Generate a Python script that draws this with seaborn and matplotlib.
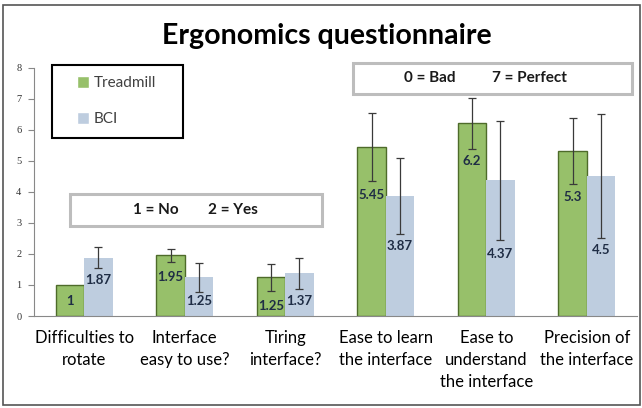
import matplotlib
matplotlib.use("Agg")
import matplotlib.pyplot as plt
import seaborn as sns
import pandas as pd
import numpy as np
from matplotlib.patches import Rectangle

categories = ["Difficulties to\nrotate", "Interface\neasy to use?", "Tiring\ninterface?",
              "Ease to learn\nthe interface", "Ease to\nunderstand\nthe interface",
              "Precision of\nthe interface"]
treadmill = [1, 1.95, 1.25, 5.45, 6.2, 5.3]
bci = [1.87, 1.25, 1.37, 3.87, 4.37, 4.5]
treadmill_err = [0, 0.21, 0.44, 1.1, 0.83, 1.06]
bci_err = [0.34, 0.47, 0.51, 1.22, 1.92, 2.0]
treadmill_txt = ["1", "1.95", "1.25", "5.45", "6.2", "5.3"]
bci_txt = ["1.87", "1.25", "1.37", "3.87", "4.37", "4.5"]
# heights where the value labels sit
treadmill_lab_y = [0.49, 1.26, 0.32, 3.88, 4.98, 3.83]
bci_lab_y = [1.15, 0.49, 0.49, 2.25, 2.0, 2.12]

df = pd.DataFrame({
    "question": categories * 2,
    "score": treadmill + bci,
    "group": ["Treadmill"] * 6 + ["BCI"] * 6,
})

W, H = 642, 408
fig = plt.figure(figsize=(W / 100, H / 100), dpi=100)
sns.set_style("white")
plt.rcParams["font.family"] = ["Lato", "DejaVu Sans"]

def fx(px):
    return px / W

def fy(py):
    return 1 - py / H

ax = fig.add_axes([fx(34), fy(316), fx(637) - fx(34), fy(67.5) - fy(316)])

green = "#98CE5C"
blue = "#B8CCE4"
sns.barplot(data=df, x="question", y="score", hue="group",
            palette={"Treadmill": green, "BCI": blue}, width=0.565,
            errorbar=None, ax=ax, legend=True)

conts = ax.containers
for bar in conts[0]:
    bar.set_edgecolor("#4E6B2A")
    bar.set_linewidth(1.0)
for bar in conts[1]:
    bar.set_edgecolor("none")

for cont, vals, errs, txts, laby in [(conts[0], treadmill, treadmill_err, treadmill_txt, treadmill_lab_y),
                                      (conts[1], bci, bci_err, bci_txt, bci_lab_y)]:
    for bar, v, e, t, ly in zip(cont, vals, errs, txts, laby):
        cx = bar.get_x() + bar.get_width() / 2
        if e > 0:
            ax.errorbar(cx, v, yerr=e, color="#3a3a3a", elinewidth=0.9,
                        capsize=3, capthick=0.9, fmt="none", zorder=5)
        ax.text(cx, ly, t, ha="center", va="center", fontsize=9.5,
                fontweight="bold", color="#1F2D45", zorder=6)

ax.set_ylim(0, 8)
ax.set_xlim(-0.5, 5.5)
ax.set_yticks(range(0, 9))
ax.set_yticklabels([str(i) for i in range(9)], family="Liberation Serif",
                   fontsize=7.5, color="#333333")
ax.set_xticks(range(6))
ax.set_xticklabels(categories, fontsize=12, linespacing=1.45, color="black")
ax.set_xticks(np.arange(-0.5, 6.0, 1.0), minor=True)
ax.tick_params(axis="x", which="major", length=0, pad=10)
ax.tick_params(axis="x", which="minor", length=5, color="#888888", width=0.8, direction="out")
ax.tick_params(axis="y", length=4, color="#888888", width=0.8, direction="out", left=True, pad=5)
ax.set_xlabel("")
ax.set_ylabel("")
for s in ["top", "right"]:
    ax.spines[s].set_visible(False)
for s in ["left", "bottom"]:
    ax.spines[s].set_color("#888888")
    ax.spines[s].set_linewidth(0.8)

handles, labels = ax.get_legend_handles_labels()
ax.legend(handles, labels, loc="upper left", frameon=False, fontsize=11,
          handlelength=0.8, handleheight=0.8, handletextpad=0.3, labelspacing=1.45,
          labelcolor="#404040", bbox_to_anchor=(fx(77), fy(76)),
          bbox_transform=fig.transFigure, borderpad=0, borderaxespad=0)

# legend frame
fig.patches.append(Rectangle((fx(52), fy(138)), fx(183) - fx(52), fy(65) - fy(138),
                             transform=fig.transFigure, fill=False, edgecolor="black",
                             linewidth=1.5, zorder=10))

# annotation boxes
for x0, x1, y0, y1 in [(70, 322, 194, 226), (353, 632, 63, 94)]:
    fig.patches.append(Rectangle((fx(x0), fy(y1)), fx(x1) - fx(x0), fy(y0) - fy(y1),
                                 transform=fig.transFigure, facecolor="white",
                                 edgecolor="#BDBDBD", linewidth=2.2, zorder=10))
for txt, x, y in [("1 = No", 156, 210), ("2 = Yes", 233, 210),
                  ("0 = Bad", 429.5, 78.5), ("7 = Perfect", 529, 78.5)]:
    fig.text(fx(x), fy(y), txt, ha="center", va="center", fontsize=11,
             fontweight="bold", color="#1a1a1a", zorder=11)

fig.text(fx(327), fy(44), "Ergonomics questionnaire", ha="center", va="baseline",
         fontsize=20.5, fontweight="bold", color="black")

# outer chart border
fig.patches.append(Rectangle((fx(3), fy(405)), fx(640) - fx(3), fy(5) - fy(405),
                             transform=fig.transFigure, fill=False, edgecolor="#555555",
                             linewidth=1.2, zorder=10))

fig.savefig("out.png", dpi=100)
